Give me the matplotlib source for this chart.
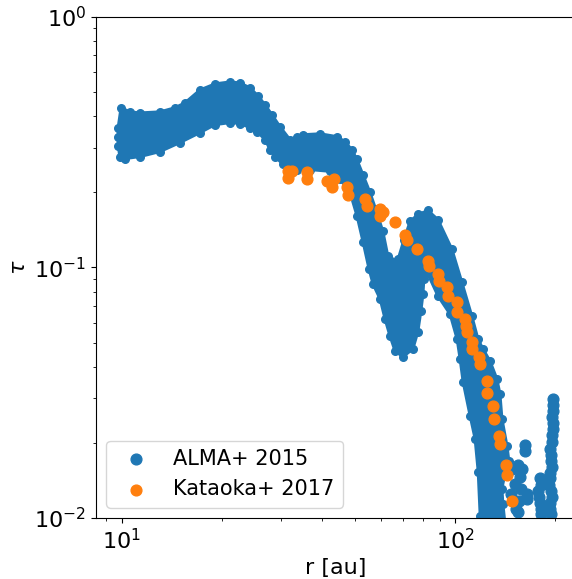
import matplotlib
matplotlib.use("Agg")
import matplotlib.pyplot as plt

# ALMA+ 2015: outline of the dense cloud of points (r [au], tau)
alma_outline_r = [9.88, 9.75, 9.75, 9.75, 9.95, 10.59, 11.35, 13.03, 14.45, 15.48,
                  17.18, 19.05, 21.13, 22.64, 24.26, 25.64, 26.92, 28.25, 29.85, 31.99,
                  33.57, 34.99, 39.4, 44.3, 46.77, 49.1, 50.8, 52.97, 55.6, 57.9,
                  60.8, 62.95, 64.27, 67.45, 70.3, 73.3, 77.4, 83.0, 88.9, 97.95,
                  104.9, 112.4, 117.3, 121.4, 127.4, 133.6, 136.5, 138.4, 143.3, 145.2,
                  141.3, 138.4, 139.3, 141.3, 118.1, 118.9, 117.3, 114.8, 110.9, 105.7,
                  103.5, 101.4, 96.6, 88.9, 82.4, 80.7, 80.2, 79.05, 77.4, 74.8,
                  69.8, 66.07, 63.8, 61.65, 59.6, 56.75, 55.2, 52.97, 50.8, 48.4,
                  45.2, 42.2, 36.7, 33.57, 31.99, 30.48, 28.84, 27.86, 26.92, 25.47,
                  24.26, 22.64, 21.13, 19.05, 17.18, 14.96, 13.03, 11.35, 10.23]
alma_outline_tau = [0.274, 0.3055, 0.332, 0.360, 0.433, 0.417, 0.413, 0.417, 0.433, 0.453,
                    0.510, 0.539, 0.549, 0.544, 0.520, 0.483, 0.445, 0.406, 0.364, 0.323,
                    0.332, 0.338, 0.341, 0.332, 0.317, 0.294, 0.269, 0.234, 0.199, 0.170,
                    0.139, 0.1106, 0.1057, 0.1076, 0.129, 0.1524, 0.1625, 0.1685, 0.155, 0.118,
                    0.0872, 0.0639, 0.0517, 0.0472, 0.0423, 0.0359, 0.0313, 0.0249, 0.0194, 0.0169,
                    0.0150, 0.0131, 0.0114, 0.0095, 0.0095, 0.0102, 0.0153, 0.0207, 0.0256, 0.0349,
                    0.0431, 0.0517, 0.0650, 0.0767, 0.0955, 0.0896, 0.0781, 0.0668, 0.0552, 0.0472,
                    0.0439, 0.0463, 0.0531, 0.0621, 0.0746, 0.0856, 0.0982, 0.126, 0.160, 0.199,
                    0.224, 0.241, 0.245, 0.245, 0.250, 0.257, 0.276, 0.294, 0.323, 0.347,
                    0.360, 0.374, 0.377, 0.370, 0.344, 0.314, 0.289, 0.276, 0.271]

# ALMA+ 2015: sparse points at large radii
alma_r = [196.9, 196.9, 196.9, 195.4, 192.9, 194.1, 192.9, 191.4, 195.4, 192.9,
          196.9, 195.4, 196.9, 195.4, 194.1, 195.4, 192.9, 194.1, 192.9, 194.1,
          180.0, 177.4, 180.0, 181.1, 181.1, 178.6, 181.1,
          162.2, 162.2, 154.5, 156.7, 157.8, 155.6, 154.5, 164.4, 148.3, 147.2,
          151.4, 158.9, 164.4, 152.4]
alma_tau = [0.02987, 0.02676, 0.02397, 0.02148, 0.0189, 0.01693, 0.01517, 0.01359, 0.01218, 0.0109,
            0.02827, 0.02533, 0.02269, 0.02014, 0.01788, 0.01602, 0.0144, 0.01286, 0.01152, 0.01033,
            0.0144, 0.01286, 0.01152, 0.01033, 0.01359, 0.01218, 0.0109,
            0.0196, 0.01855, 0.01632, 0.01462, 0.0131, 0.01174, 0.01052, 0.01196, 0.01573, 0.01252,
            0.01372, 0.01573, 0.01252, 0.0109]

# Kataoka+ 2017
kat_r = [31.55, 32.43, 31.55, 35.97, 35.97, 41.3, 43.35, 42.76, 47.42, 47.75,
         53.7, 54.45, 59.6, 60.8, 59.6, 66.07, 70.8, 71.8, 76.9, 83.0,
         83.57, 88.9, 89.5, 94.6, 95.3, 101.4, 101.4, 107.1, 107.9, 108.6,
         112.4, 112.4, 118.1, 118.9, 124.7, 124.7, 130.0, 130.9, 135.5, 136.5,
         142.2, 143.3, 148.3]
kat_tau = [0.241, 0.241, 0.226, 0.239, 0.224, 0.220, 0.224, 0.208, 0.208, 0.195,
           0.188, 0.175, 0.170, 0.166, 0.160, 0.151, 0.135, 0.129, 0.118, 0.106,
           0.101, 0.0938, 0.0880, 0.0832, 0.0767, 0.0726, 0.0662, 0.0621, 0.0582, 0.0552,
           0.0503, 0.0472, 0.0439, 0.0411, 0.0352, 0.0316, 0.0280, 0.0249, 0.0213, 0.0198,
           0.0162, 0.0148, 0.0117]

labels = ["ALMA+ 2015", "Kataoka+ 2017"]
blue = "#1f77b4"
orange = "#ff7f0e"

fig = plt.figure(figsize=(5.72, 5.79), dpi=100)
ax = fig.add_axes([96 / 572, 1 - 518 / 579, (575 - 96) / 572, (518 - 16.5) / 579])
ax.set_xscale("log")
ax.set_yscale("log")

ax.fill(alma_outline_r, alma_outline_tau, facecolor=blue, edgecolor=blue,
        linewidth=2.0, joinstyle="round", zorder=2)
ax.scatter(alma_outline_r, alma_outline_tau, s=30, color=blue, zorder=2)
ax.scatter(alma_r, alma_tau, s=60, color=blue, label=labels[0], zorder=2)
ax.scatter(kat_r, kat_tau, s=60, color=orange, label=labels[1], zorder=3)

ax.set_xlim(8.375, 229.1)
ax.set_ylim(1e-2, 1)
ax.set_xlabel("r [au]", fontsize=16)
ax.set_ylabel(r"$\tau$", fontsize=16)
ax.tick_params(axis="both", which="major", labelsize=16)
ax.legend(loc="lower left", fontsize=15)

fig.savefig("out.png", dpi=100)
